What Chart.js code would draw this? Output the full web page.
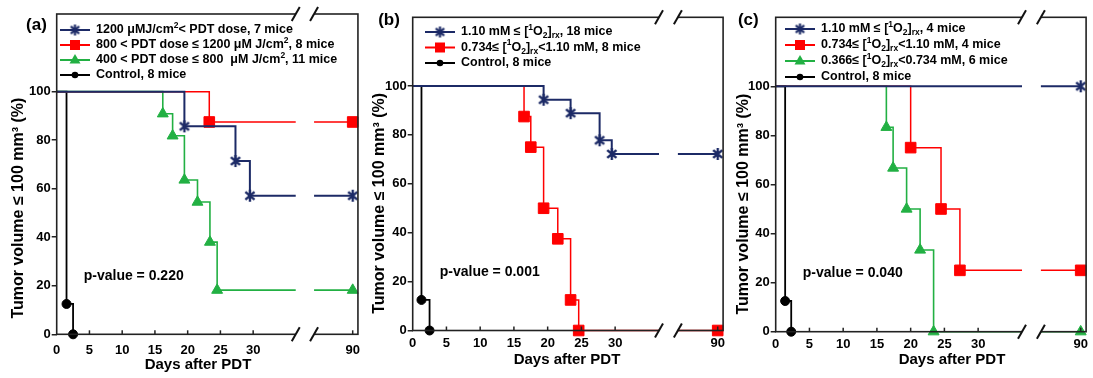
<!DOCTYPE html>
<html>
<head>
<meta charset="utf-8">
<script src="https://cdn.jsdelivr.net/npm/chart.js@4/dist/chart.umd.min.js"></script>
<style>
  body { margin: 0; background: #fff; width: 1093px; height: 378px; overflow: hidden; position: relative; }
  canvas { position: absolute; top: 0; }
</style>
</head>
<body>
<canvas id="pa" width="368" height="378" style="left:0"></canvas>
<canvas id="pb" width="362" height="378" style="left:368px"></canvas>
<canvas id="pc" width="363" height="378" style="left:730px"></canvas>
<script>
// --- Data -------------------------------------------------------------

const xTickDays = [0, 5, 10, 15, 20, 25, 30, 90];
const yTickValues = [0, 20, 40, 60, 80, 100];

// (a) grouped by PDT dose
const aLabels = [
  "1200 μMJ/cm{^2}< PDT dose, 7 mice",
  "800 < PDT dose ≤ 1200 μM J/cm{^2}, 8 mice",
  "400 < PDT dose ≤ 800  μM J/cm{^2}, 11 mice",
  "Control, 8 mice",
];
const aHighDays = [0, 19.5, 27.3, 29.5, 90];
const aHighSurv = [100, 85.7, 71.4, 57.1, 57.1];
const aMidDays = [0, 23.3, 90];
const aMidSurv = [100, 87.5, 87.5];
const aLowDays = [0, 16.2, 17.7, 19.5, 21.5, 23.4, 24.5, 90];
const aLowSurv = [100, 90.9, 81.8, 63.6, 54.5, 38, 18.2, 18.2];
const aCtrlDays = [0, 1.5, 2.5];
const aCtrlSurv = [100, 12.5, 0];

// (b) grouped by reacted singlet oxygen
const bLabels = [
  "1.10 mM ≤ [{^1}O{_2}]{_rx}, 18 mice",
  "0.734≤ [{^1}O{_2}]{_rx}<1.10 mM, 8 mice",
  "Control, 8 mice",
];
const bHighDays = [0, 19.4, 23.4, 27.7, 29.5, 90];
const bHighSurv = [100, 94.4, 88.9, 77.8, 72.2, 72.2];
const bMidDays = [0, 16.5, 17.5, 19.4, 21.5, 23.4, 24.6, 90];
const bMidSurv = [100, 87.5, 75, 50, 37.5, 12.5, 0, 0];
const bCtrlDays = [0, 1.3, 2.5];
const bCtrlSurv = [100, 12.5, 0];

// (c) three singlet oxygen groups
const cLabels = [
  "1.10 mM ≤ [{^1}O{_2}]{_rx}, 4 mice",
  "0.734≤ [{^1}O{_2}]{_rx}<1.10 mM, 4 mice",
  "0.366≤ [{^1}O{_2}]{_rx}<0.734 mM, 6 mice",
  "Control, 8 mice",
];
const cHighDays = [0, 90];
const cHighSurv = [100, 100];
const cMidDays = [0, 20.0, 24.5, 27.3, 90];
const cMidSurv = [100, 75, 50, 25, 25];
const cLowDays = [0, 16.4, 17.4, 19.4, 21.4, 23.4, 90];
const cLowSurv = [100, 83.3, 66.7, 50, 33.3, 0, 0];
const cCtrlDays = [0, 1.4, 2.3];
const cCtrlSurv = [100, 12.5, 0];

const pValues = ["p-value = 0.220", "p-value = 0.001", "p-value = 0.040"];

// --- Broken x axis: days after the break are pulled left -----------------

const BREAK_SHIFT = 44.8;
const BREAK_FROM = 36.5, BREAK_TO = 39.3;
const X_MAX = 46;
const u = (d) => (d > 40 ? d - BREAK_SHIFT : d);
const dayOf = (v) => (v > 40 ? Math.round(v + BREAK_SHIFT) : v);

// --- Styles ---------------------------------------------------------------

const FONT = '"Liberation Sans", Arial, sans-serif';
const NAVY = "#1c2a66", RED = "#ff0000", GREEN = "#22b043", BLACK = "#000";

// six-ray asterisk: vertical stroke plus an X
function makeStar(size, color, lw) {
  const c = document.createElement("canvas");
  c.width = c.height = size;
  const g = c.getContext("2d");
  const r = size / 2 - 1, m = size / 2;
  g.strokeStyle = color;
  g.lineWidth = lw;
  g.beginPath();
  for (const ang of [90, 40, 140]) {
    const a = (ang * Math.PI) / 180;
    g.moveTo(m - Math.cos(a) * r, m - Math.sin(a) * r);
    g.lineTo(m + Math.cos(a) * r, m + Math.sin(a) * r);
  }
  g.stroke();
  return c;
}

const KIND = {
  star: { color: NAVY, lw: 2, pointStyle: makeStar(14, NAVY, 2.4), r: 7 },
  rect: { color: RED, lw: 1.5, pointStyle: "rect", r: 7.5 },
  tri: { color: GREEN, lw: 1.6, pointStyle: "triangle", r: 6.3 },
  dot: { color: BLACK, lw: 1.8, pointStyle: "circle", r: 4.5 },
};
const legendStar = makeStar(13, NAVY, 2.2);

function drawLegendMarker(ctx, kind, x, y) {
  const k = KIND[kind];
  ctx.fillStyle = k.color;
  ctx.beginPath();
  if (kind === "star") {
    ctx.drawImage(legendStar, x - 6.5, y - 6.5);
    return;
  } else if (kind === "rect") {
    ctx.rect(x - 5, y - 5, 10, 10);
  } else if (kind === "tri") {
    ctx.moveTo(x, y - 6);
    ctx.lineTo(x + 5.5, y + 3.5);
    ctx.lineTo(x - 5.5, y + 3.5);
    ctx.closePath();
  } else {
    ctx.arc(x, y, 3.3, 0, Math.PI * 2);
  }
  ctx.fill();
}

function drawRich(ctx, text, x, y, size) {
  const parts = text.split(/(\{[\^_][^}]*\})/).filter(Boolean);
  let cx = x;
  for (const part of parts) {
    let t = part, dy = 0, s = size;
    const m = part.match(/^\{([\^_])(.*)\}$/);
    if (m) {
      t = m[2];
      s = size * 0.68;
      dy = m[1] === "^" ? -size * 0.38 : size * 0.3;
    }
    ctx.font = `bold ${s}px ${FONT}`;
    ctx.fillText(t, cx, y + dy);
    cx += ctx.measureText(t).width;
  }
}

function line(ctx, x1, y1, x2, y2) {
  ctx.beginPath();
  ctx.moveTo(x1, y1);
  ctx.lineTo(x2, y2);
  ctx.stroke();
}

// --- Panels ---------------------------------------------------------------

const panels = [
  {
    id: "pa", tag: "(a)", pvalue: pValues[0], yMax: 132,
    top: 14, right: 4, yW: 56.7, xH: 43.7, xPad: 8,
    legX: 3.3, legY: 30, legGap: 15, yTitleX: 19, xTitleX: 198, xTitleY: 365, tagX: 36.5, tagY: 25,
    series: [
      { label: aLabels[0], days: aHighDays, surv: aHighSurv, kind: "star" },
      { label: aLabels[1], days: aMidDays, surv: aMidSurv, kind: "rect" },
      { label: aLabels[2], days: aLowDays, surv: aLowSurv, kind: "tri" },
      { label: aLabels[3], days: aCtrlDays, surv: aCtrlSurv, kind: "dot" },
    ],
  },
  {
    id: "pb", tag: "(b)", pvalue: pValues[1], yMax: 128.1,
    top: 17.3, right: 4, yW: 44.7, xH: 47.5, xPad: 5,
    legX: 12.3, legY: 32, legGap: 15.5, yTitleX: 11.5, xTitleX: 199, xTitleY: 360, tagX: 21, tagY: 20,
    series: [
      { label: bLabels[0], days: bHighDays, surv: bHighSurv, kind: "star" },
      { label: bLabels[1], days: bMidDays, surv: bMidSurv, kind: "rect" },
      { label: bLabels[2], days: bCtrlDays, surv: bCtrlSurv, kind: "dot" },
    ],
  },
  {
    id: "pc", tag: "(c)", pvalue: pValues[2], yMax: 128.1,
    top: 17.3, right: 4, yW: 45.7, xH: 46.3, xPad: 5,
    legX: 9.3, legY: 29, legGap: 16, yTitleX: 13.3, xTitleX: 222, xTitleY: 360, tagX: 18.3, tagY: 20,
    series: [
      { label: cLabels[0], days: cHighDays, surv: cHighSurv, kind: "star" },
      { label: cLabels[1], days: cMidDays, surv: cMidSurv, kind: "rect" },
      { label: cLabels[2], days: cLowDays, surv: cLowSurv, kind: "tri" },
      { label: cLabels[3], days: cCtrlDays, surv: cCtrlSurv, kind: "dot" },
    ],
  },
];

function decorFor(p) {
  return {
    id: "decor",
    afterDraw(chart) {
      const { ctx, chartArea: a, scales: { x, y } } = chart;
      ctx.save();
      // frame + inward x ticks
      ctx.strokeStyle = "#222";
      ctx.lineWidth = 1.6;
      ctx.strokeRect(a.left, a.top, a.right - a.left, a.bottom - a.top);
      ctx.lineWidth = 1.5;
      for (const d of xTickDays) {
        if (d === 0) continue;
        const px = x.getPixelForValue(u(d));
        line(ctx, px, a.bottom, px, a.bottom - 4);
      }
      // axis break
      const b1 = x.getPixelForValue(BREAK_FROM), b2 = x.getPixelForValue(BREAK_TO);
      ctx.fillStyle = "#fff";
      ctx.fillRect(b1, a.top - 3, b2 - b1, a.bottom - a.top + 6);
      ctx.strokeStyle = "#111";
      ctx.lineWidth = 2;
      for (const bx of [b1, b2]) {
        for (const by of [a.top, a.bottom]) line(ctx, bx - 4, by + 7, bx + 4, by - 7);
      }
      // legend
      ctx.textBaseline = "middle";
      ctx.textAlign = "left";
      p.series.forEach((s, i) => {
        const k = KIND[s.kind];
        const lx = a.left + p.legX, ly = p.legY + i * p.legGap;
        ctx.strokeStyle = k.color;
        ctx.lineWidth = 2;
        line(ctx, lx, ly, lx + 30, ly);
        drawLegendMarker(ctx, s.kind, lx + 15, ly);
        ctx.fillStyle = "#000";
        drawRich(ctx, s.label, lx + 36, ly, 12.5);
      });
      // texts
      ctx.fillStyle = "#000";
      ctx.font = `bold 14px ${FONT}`;
      ctx.fillText(p.pvalue, a.left + 27, y.getPixelForValue(24));
      ctx.textAlign = "center";
      ctx.font = `bold 17px ${FONT}`;
      ctx.fillText(p.tag, p.tagX, p.tagY);
      ctx.font = `bold 15px ${FONT}`;
      ctx.fillText("Days after PDT", p.xTitleX, p.xTitleY);
      ctx.translate(p.yTitleX, y.getPixelForValue(52));
      ctx.rotate(-Math.PI / 2);
      ctx.font = `bold 16px ${FONT}`;
      ctx.fillText("Tumor volume ≤ 100 mm³ (%)", 0, 0);
      ctx.restore();
    },
  };
}

const tickFont = { family: FONT, weight: "bold", size: 13 };

for (const p of panels) {
  new Chart(document.getElementById(p.id), {
    type: "line",
    data: {
      datasets: p.series.map((s) => {
        const k = KIND[s.kind];
        return {
          label: s.label,
          data: s.days.map((d, i) => ({ x: u(d), y: s.surv[i] })),
          stepped: true,
          borderColor: k.color,
          borderWidth: k.lw,
          pointStyle: k.pointStyle,
          pointRadius: (c) => (c.dataIndex === 0 ? 0 : k.r),
          pointBackgroundColor: k.color,
          pointBorderColor: k.color,
          pointBorderWidth: 1,
          fill: false,
          clip: false,
        };
      }),
    },
    options: {
      responsive: false,
      animation: false,
      events: [],
      layout: { autoPadding: false, padding: { left: 0, top: p.top, right: p.right, bottom: 0 } },
      plugins: { legend: { display: false }, tooltip: { enabled: false } },
      scales: {
        x: {
          type: "linear", min: 0, max: X_MAX,
          afterBuildTicks: (s) => { s.ticks = xTickDays.map((d) => ({ value: u(d) })); },
          afterFit: (s) => { s.height = p.xH; },
          grid: { display: false, drawTicks: false },
          border: { display: false },
          ticks: { font: tickFont, color: "#000", padding: p.xPad, maxRotation: 0, autoSkip: false,
                   callback: (v) => String(dayOf(v)) },
        },
        y: {
          min: 0, max: p.yMax,
          afterBuildTicks: (s) => { s.ticks = yTickValues.map((v) => ({ value: v })); },
          afterFit: (s) => { s.width = p.yW; },
          grid: { drawOnChartArea: false, drawTicks: true, tickLength: 5, color: "#222", lineWidth: 1.5 },
          border: { display: false },
          ticks: { font: tickFont, color: "#000", padding: 1 },
        },
      },
    },
    plugins: [decorFor(p)],
  });
}
</script>
</body>
</html>
